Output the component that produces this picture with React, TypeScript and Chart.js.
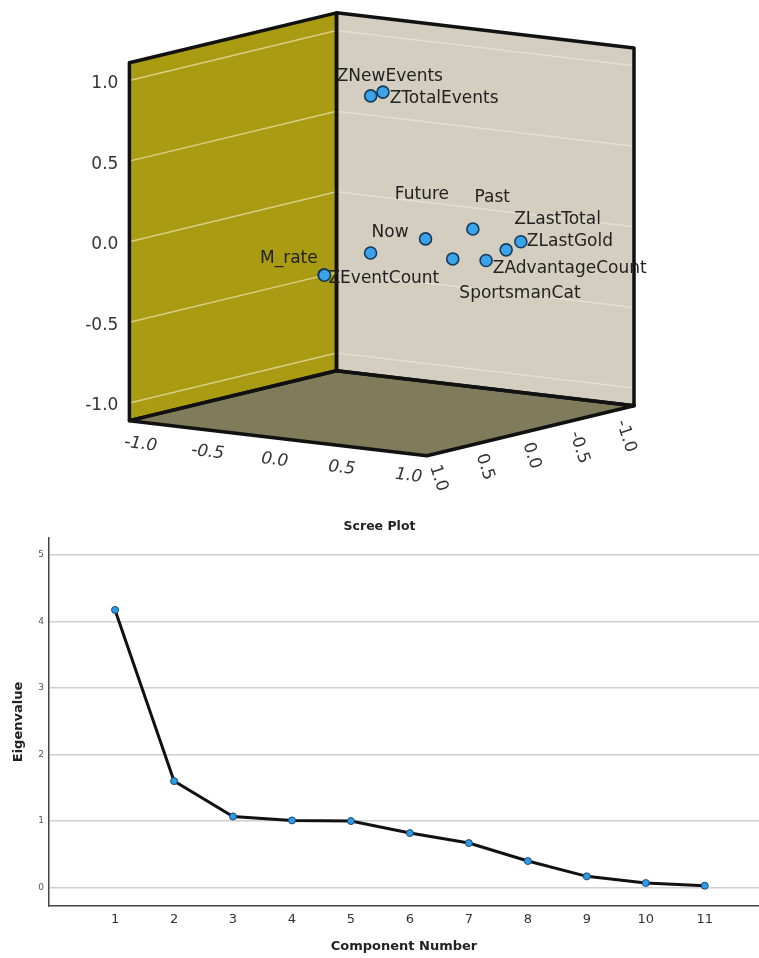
import React, { useEffect, useRef } from 'react';
import { Chart, registerables } from 'chart.js';

Chart.register(...registerables);

// ---------- Component plot in rotated space (loadings) ----------
const variableNames = [
  'ZNewEvents',
  'ZTotalEvents',
  'M_rate',
  'ZEventCount',
  'Now',
  'Future',
  'Past',
  'SportsmanCat',
  'ZAdvantageCount',
  'ZLastTotal',
  'ZLastGold',
];
// horizontal axis (front edge)
const component1Loadings = [0.05, 0.1, 0.05, 0.06, 0.3, 0.55, 0.75, 0.6, 0.8, 0.88, 0.92];
// vertical axis
const component2Loadings = [0.89, 0.91, -0.15, -0.15, -0.01, 0.07, 0.12, -0.08, -0.08, -0.02, 0.02];
// depth axis (right edge)
const component3Loadings = [0.19, 0.13, 0.69, 0.7, 0.55, 0.32, 0.1, 0.1, 0.03, -0.07, -0.17];
const loadingTicks = [-1.0, -0.5, 0.0, 0.5, 1.0];

// ---------- Scree plot ----------
const componentNumbers = [1, 2, 3, 4, 5, 6, 7, 8, 9, 10, 11];
const eigenvalues = [4.17, 1.6, 1.07, 1.01, 1.0, 0.82, 0.67, 0.4, 0.17, 0.07, 0.03];
const eigenTicks = [0, 1, 2, 3, 4, 5];

// ---------- view / style settings ----------
const VIEW = {
  cx: 381.7,
  cy: 234.3,
  ex: [134, 15.8],
  ey: [0, -161.2],
  ez: [-93.3, 22.5],
  half: 1.11,
};

function project(a: number, b: number, c: number) {
  return {
    x: VIEW.cx + a * VIEW.ex[0] + b * VIEW.ey[0] + c * VIEW.ez[0],
    y: VIEW.cy + a * VIEW.ex[1] + b * VIEW.ey[1] + c * VIEW.ez[1],
  };
}

// label placement relative to each point: left edge dx, vertical centre dy
const labelOffsets = [
  [-34, -19],
  [6.7, 6],
  [-64, -16],
  [4, 3],
  [1, -20],
  [-30.7, -44.3],
  [1.7, -31.6],
  [6.6, 34.3],
  [6.7, 8],
  [8, -30.3],
  [6, 0],
];

const fmt = (v: number) => v.toFixed(1);

function ComponentPlot() {
  const ref = useRef<HTMLCanvasElement>(null);
  useEffect(() => {
    const canvas = ref.current!;
    const box3d = {
      id: 'box3d',
      beforeDatasetsDraw(chart: any) {
        const { ctx } = chart;
        const sx = chart.scales.x;
        const sy = chart.scales.y;
        const P = (a: number, b: number, c: number): [number, number] => {
          const p = project(a, b, c);
          return [sx.getPixelForValue(p.x), sy.getPixelForValue(p.y)];
        };
        const H = VIEW.half;
        const poly = (pts: [number, number][], fill: string) => {
          ctx.beginPath();
          pts.forEach((p, i) => (i ? ctx.lineTo(p[0], p[1]) : ctx.moveTo(p[0], p[1])));
          ctx.closePath();
          ctx.fillStyle = fill;
          ctx.fill();
        };
        const line = (p: [number, number], q: [number, number]) => {
          ctx.beginPath();
          ctx.moveTo(p[0], p[1]);
          ctx.lineTo(q[0], q[1]);
          ctx.stroke();
        };
        ctx.save();
        // faces
        poly([P(-H, -H, H), P(-H, -H, -H), P(-H, H, -H), P(-H, H, H)], '#a99c13');
        poly([P(-H, -H, -H), P(H, -H, -H), P(H, H, -H), P(-H, H, -H)], '#d3cebf');
        poly([P(-H, -H, H), P(-H, -H, -H), P(H, -H, -H), P(H, -H, H)], '#7f7b5b');
        // gridlines
        ctx.lineWidth = 1.5;
        loadingTicks.forEach((v) => {
          ctx.strokeStyle = 'rgba(232,224,170,0.75)';
          line(P(-H, v, H), P(-H, v, -H));
          ctx.strokeStyle = '#e3dfd5';
          line(P(-H, v, -H), P(H, v, -H));
        });
        // edges
        ctx.strokeStyle = '#111';
        ctx.lineWidth = 3.5;
        ctx.lineJoin = 'round';
        ctx.lineCap = 'round';
        ctx.beginPath();
        const outline = (pts: [number, number][]) => {
          ctx.beginPath();
          pts.forEach((p, i) => (i ? ctx.lineTo(p[0], p[1]) : ctx.moveTo(p[0], p[1])));
          ctx.closePath();
          ctx.stroke();
        };
        outline([P(-H, -H, H), P(-H, -H, -H), P(-H, H, -H), P(-H, H, H)]);
        outline([P(-H, -H, -H), P(H, -H, -H), P(H, H, -H), P(-H, H, -H)]);
        outline([P(-H, -H, H), P(-H, -H, -H), P(H, -H, -H), P(H, -H, H)]);

        // tick labels
        ctx.fillStyle = '#333';
        ctx.font = '17px "DejaVu Sans"';
        ctx.textBaseline = 'middle';
        // vertical axis
        ctx.textAlign = 'right';
        loadingTicks.forEach((v) => {
          const p = P(-H, v, H);
          ctx.fillText(fmt(v), p[0] - 11, p[1] + 3);
        });
        // front horizontal axis
        const ang = Math.atan2(VIEW.ex[1], VIEW.ex[0]);
        ctx.font = 'italic 17px "DejaVu Sans"';
        ctx.textAlign = 'center';
        loadingTicks.forEach((v) => {
          const p = P(v, -H, H);
          ctx.save();
          ctx.translate(p[0] - 3.5, p[1] + 22);
          ctx.rotate(ang);
          ctx.fillText(fmt(v), 0, 0);
          ctx.restore();
        });
        // depth axis
        ctx.font = '17px "DejaVu Sans"';
        ctx.textAlign = 'left';
        loadingTicks.forEach((v) => {
          const p = P(H, -H, v);
          ctx.save();
          ctx.translate(p[0] - 3, p[1] + 12);
          ctx.rotate((72 * Math.PI) / 180);
          ctx.fillText(fmt(v), 0, 0);
          ctx.restore();
        });
        ctx.restore();
      },
      afterDatasetsDraw(chart: any) {
        const { ctx } = chart;
        const meta = chart.getDatasetMeta(0);
        ctx.save();
        ctx.font = '17px "DejaVu Sans"';
        ctx.fillStyle = '#222';
        ctx.textAlign = 'left';
        ctx.textBaseline = 'middle';
        meta.data.forEach((el: any, i: number) => {
          const [dx, dy] = labelOffsets[i];
          ctx.fillText(variableNames[i], el.x + dx, el.y + dy);
        });
        ctx.restore();
      },
    };
    const chart = new Chart(canvas, {
      type: 'scatter',
      data: {
        datasets: [
          {
            data: variableNames.map((_, i) =>
              project(component1Loadings[i], component2Loadings[i], component3Loadings[i])
            ),
            pointRadius: 6,
            pointBackgroundColor: '#3aa3ea',
            pointBorderColor: '#163a5a',
            pointBorderWidth: 1.6,
          },
        ],
      },
      options: {
        animation: false,
        responsive: false,
        layout: { padding: 0, autoPadding: false } as any,
        plugins: { legend: { display: false }, tooltip: { enabled: false }, title: { display: false } },
        scales: {
          x: { type: 'linear', min: 0, max: 759, display: false },
          y: { type: 'linear', min: 0, max: 490, reverse: true, display: false },
        },
      },
      plugins: [box3d],
    });
    return () => chart.destroy();
  }, []);
  return (
    <canvas
      ref={ref}
      width={759}
      height={490}
      style={{ position: 'absolute', left: 0, top: 0, width: 759, height: 490 }}
    />
  );
}

function ScreePlot() {
  const ref = useRef<HTMLCanvasElement>(null);
  useEffect(() => {
    const canvas = ref.current!;
    const chart = new Chart(canvas, {
      type: 'line',
      data: {
        datasets: [
          {
            data: componentNumbers.map((c, i) => ({ x: c, y: eigenvalues[i] })),
            borderColor: '#111',
            borderWidth: 3,
            pointRadius: 3.5,
            pointBackgroundColor: '#2b9de8',
            pointBorderColor: '#1f4670',
            pointBorderWidth: 1,
            tension: 0,
          },
        ],
      },
      options: {
        animation: false,
        responsive: false,
        layout: { padding: 0, autoPadding: false } as any,
        plugins: {
          legend: { display: false },
          tooltip: { enabled: false },
          title: {
            display: true,
            text: 'Scree Plot',
            color: '#222',
            font: { family: 'DejaVu Sans', weight: 'bold', size: 12.5 },
            padding: { top: 19, bottom: 4 },
          },
        },
        scales: {
          x: {
            type: 'linear',
            min: -0.12,
            max: 11.92,
            grid: { display: false, drawTicks: false },
            border: { display: true, color: '#444', width: 1.5 },
            ticks: {
              stepSize: 1,
              includeBounds: false,
              padding: 6,
              color: '#333',
              font: { family: 'DejaVu Sans', size: 13 },
              callback: (v: any) =>
                componentNumbers.includes(Number(v)) ? String(v) : '',
            },
            title: {
              display: true,
              text: 'Component Number',
              color: '#222',
              font: { family: 'DejaVu Sans', weight: 'bold', size: 13 },
              padding: { top: 0, bottom: 3.2 },
            },
            afterFit: (s: any) => {
              s.height = 52;
            },
          },
          y: {
            type: 'linear',
            min: -0.275,
            max: 5.25,
            grid: { color: '#cfcfcf', lineWidth: 1.5, drawTicks: false },
            border: { display: true, color: '#444', width: 1.5 },
            ticks: {
              stepSize: 1,
              includeBounds: false,
              padding: 5,
              color: '#555',
              font: { family: 'DejaVu Sans', size: 9 },
              callback: (v: any) => (eigenTicks.includes(Number(v)) ? String(v) : ''),
            },
            title: {
              display: true,
              text: 'Eigenvalue',
              color: '#222',
              font: { family: 'DejaVu Sans', weight: 'bold', size: 13 },
              padding: { top: 10.5, bottom: 0 },
            },
            afterFit: (s: any) => {
              s.width = 49;
            },
          },
        },
      },
    });
    return () => chart.destroy();
  }, []);
  return (
    <canvas
      ref={ref}
      width={759}
      height={458}
      style={{ position: 'absolute', left: 0, top: 500, width: 759, height: 458 }}
    />
  );
}

export default function App() {
  return (
    <div style={{ position: 'absolute', left: 0, top: 0, width: 759, height: 958, background: '#fff' }}>
      <ComponentPlot />
      <ScreePlot />
    </div>
  );
}
